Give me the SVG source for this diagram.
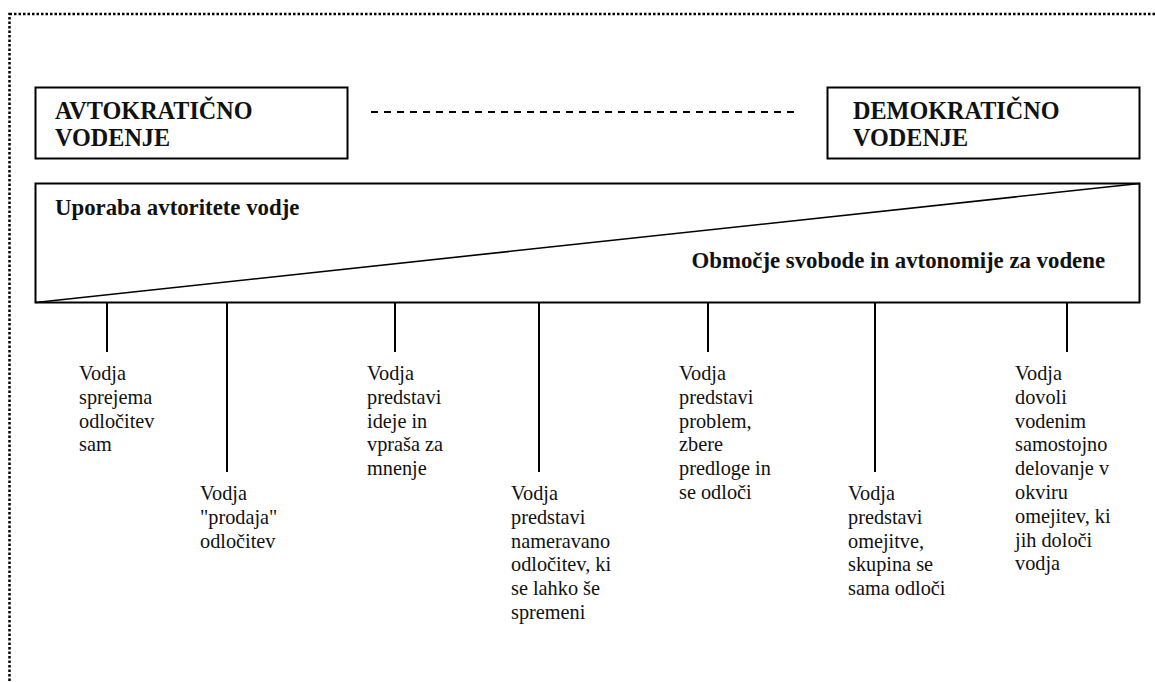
<svg xmlns="http://www.w3.org/2000/svg" width="1155" height="682" viewBox="0 0 1155 682">
  <style>
    .frame { fill: none; stroke: #000; stroke-width: 2.5; stroke-dasharray: 2.5 2; }
    .box { fill: #fff; stroke: #000; stroke-width: 2; }
    .line { stroke: #000; stroke-width: 2; fill: none; }
    .diag { stroke: #000; stroke-width: 1.6; fill: none; }
    .dash { stroke: #000; stroke-width: 2; stroke-dasharray: 7 6; fill: none; }
    text { font-family: 'Liberation Serif', 'DejaVu Serif', serif; fill: #111; }
    .head { font-weight: bold; font-size: 24.2px; }
    .band { font-weight: bold; font-size: 22.8px; }
    .lbl { font-size: 20.3px; }
  </style>
  <rect width="1155" height="682" fill="#fff"/>

  <!-- dotted outer frame, open past the right and bottom edges -->
  <rect class="frame" x="9.5" y="14" width="1160" height="690"/>

  <!-- end points of the leadership scale -->
  <g id="autocratic">
    <rect class="box" x="35.5" y="87.5" width="312" height="71"/>
    <text class="head" x="55" y="119">AVTOKRATIČNO</text>
    <text class="head" x="55" y="146">VODENJE</text>
  </g>
  <g id="democratic">
    <rect class="box" x="827.5" y="87.5" width="312" height="71"/>
    <text class="head" x="853" y="119">DEMOKRATIČNO</text>
    <text class="head" x="853" y="146">VODENJE</text>
  </g>

  <!-- authority / freedom band -->
  <g id="band">
    <rect class="box" x="35.5" y="183.5" width="1104" height="119"/>
    <line class="diag" x1="35.5" y1="302.5" x2="1139.5" y2="183.5"/>
    <text class="band" x="55" y="215">Uporaba avtoritete vodje</text>
    <text class="band" x="1105" y="268" text-anchor="end">Območje svobode in avtonomije za vodene</text>
  </g>

  <!-- connectors: scale line and drop lines to the styles -->
  <g id="connectors">
    <line class="dash" x1="371" y1="112" x2="798" y2="112"/>
    <line class="line" x1="107" y1="303" x2="107" y2="352"/>
    <line class="line" x1="227" y1="303" x2="227" y2="472"/>
    <line class="line" x1="395" y1="303" x2="395" y2="352"/>
    <line class="line" x1="539" y1="303" x2="539" y2="472"/>
    <line class="line" x1="708" y1="303" x2="708" y2="352"/>
    <line class="line" x1="875" y1="303" x2="875" y2="472"/>
    <line class="line" x1="1067" y1="303" x2="1067" y2="352"/>
  </g>

  <!-- leadership styles along the scale -->
  <g id="style1">
    <text class="lbl" x="79" y="380">
      <tspan x="79" dy="0">Vodja</tspan>
      <tspan x="79" dy="23.8">sprejema</tspan>
      <tspan x="79" dy="23.8">odločitev</tspan>
      <tspan x="79" dy="23.8">sam</tspan>
    </text>
  </g>
  <g id="style2">
    <text class="lbl" x="200" y="500">
      <tspan x="200" dy="0">Vodja</tspan>
      <tspan x="200" dy="23.8">"prodaja"</tspan>
      <tspan x="200" dy="23.8">odločitev</tspan>
    </text>
  </g>
  <g id="style3">
    <text class="lbl" x="367" y="380">
      <tspan x="367" dy="0">Vodja</tspan>
      <tspan x="367" dy="23.8">predstavi</tspan>
      <tspan x="367" dy="23.8">ideje in</tspan>
      <tspan x="367" dy="23.8">vpraša za</tspan>
      <tspan x="367" dy="23.8">mnenje</tspan>
    </text>
  </g>
  <g id="style4">
    <text class="lbl" x="511" y="500">
      <tspan x="511" dy="0">Vodja</tspan>
      <tspan x="511" dy="23.8">predstavi</tspan>
      <tspan x="511" dy="23.8">nameravano</tspan>
      <tspan x="511" dy="23.8">odločitev, ki</tspan>
      <tspan x="511" dy="23.8">se lahko še</tspan>
      <tspan x="511" dy="23.8">spremeni</tspan>
    </text>
  </g>
  <g id="style5">
    <text class="lbl" x="679" y="380">
      <tspan x="679" dy="0">Vodja</tspan>
      <tspan x="679" dy="23.8">predstavi</tspan>
      <tspan x="679" dy="23.8">problem,</tspan>
      <tspan x="679" dy="23.8">zbere</tspan>
      <tspan x="679" dy="23.8">predloge in</tspan>
      <tspan x="679" dy="23.8">se odloči</tspan>
    </text>
  </g>
  <g id="style6">
    <text class="lbl" x="848" y="500">
      <tspan x="848" dy="0">Vodja</tspan>
      <tspan x="848" dy="23.8">predstavi</tspan>
      <tspan x="848" dy="23.8">omejitve,</tspan>
      <tspan x="848" dy="23.8">skupina se</tspan>
      <tspan x="848" dy="23.8">sama odloči</tspan>
    </text>
  </g>
  <g id="style7">
    <text class="lbl" x="1015" y="380">
      <tspan x="1015" dy="0">Vodja</tspan>
      <tspan x="1015" dy="23.8">dovoli</tspan>
      <tspan x="1015" dy="23.8">vodenim</tspan>
      <tspan x="1015" dy="23.8">samostojno</tspan>
      <tspan x="1015" dy="23.8">delovanje v</tspan>
      <tspan x="1015" dy="23.8">okviru</tspan>
      <tspan x="1015" dy="23.8">omejitev, ki</tspan>
      <tspan x="1015" dy="23.8">jih določi</tspan>
      <tspan x="1015" dy="23.8">vodja</tspan>
    </text>
  </g>
</svg>
